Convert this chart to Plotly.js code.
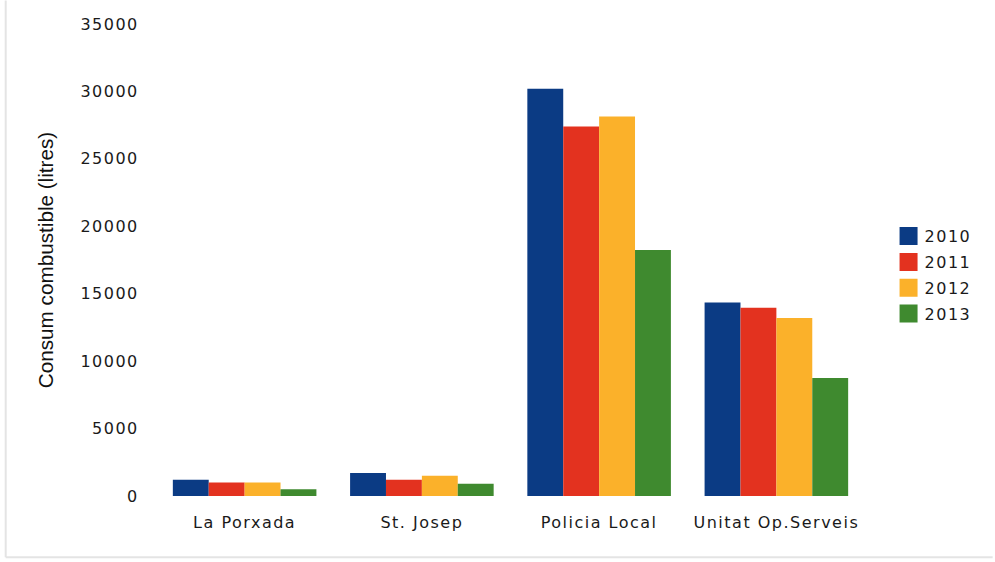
<!DOCTYPE html>
<html><head><meta charset="utf-8">
<script src="https://cdn.plot.ly/plotly-3.0.1.min.js"></script>
<style>
body{margin:0;background:#fff}#c{width:995px;height:562px}
.xtick text, .ytick text, .legendtext {letter-spacing:1.5px}
.legend .legendpoints path {transform-origin: 0 0; transform: translate(24px, 0) scale(1.5)}
</style>
</head><body><div id="c"></div>
<script>
const categories = ["La Porxada", "St. Josep", "Policia Local", "Unitat Op.Serveis"];
const years = ["2010", "2011", "2012", "2013"];
const v2010 = [1200, 1700, 30200, 14350];
const v2011 = [1000, 1200, 27400, 13950];
const v2012 = [1000, 1500, 28150, 13200];
const v2013 = [500, 900, 18250, 8750];
const colors = ["#0b3b84", "#e3321f", "#fbb12a", "#3f8a2f"];
const series = [v2010, v2011, v2012, v2013];

const traces = series.map((vals, i) => ({
  type: "bar", name: years[i], x: categories, y: vals, legendgroup: "g" + i,
  marker: {color: colors[i], line: {width: 0}}
}));

const tickFont = {family: "DejaVu Sans, sans-serif", size: 16, color: "#1a1a1a"};
const layout = {
  width: 995, height: 562,
  margin: {l: 156, r: 130, t: 24, b: 66, autoexpand: false},
  barmode: "group", bargap: 0.19, bargroupgap: 0,
  paper_bgcolor: "#fff", plot_bgcolor: "#fff",
  font: {family: "Liberation Sans, Arial, sans-serif", color: "#111", size: 15},
  xaxis: {showgrid: false, zeroline: false, showline: false, ticks: "outside", ticklen: 12,
          tickcolor: "rgba(0,0,0,0)", tickfont: tickFont, automargin: false},
  yaxis: {range: [0, 35000], dtick: 5000, tickformat: "d", showgrid: false, zeroline: false, showline: false,
          ticks: "outside", ticklen: 13, tickcolor: "rgba(0,0,0,0)", tickfont: tickFont, automargin: false,
          title: {text: "Consum combustible (litres)", font: {family: "Liberation Sans, Arial, sans-serif", size: 20.7, color: "#111"}, standoff: 21}},
  legend: {xref: "container", yref: "container", x: 0.889, xanchor: "left", y: 0.61, yanchor: "top",
           font: tickFont, tracegroupgap: 2},
  showlegend: true,
  shapes: [
    {type: "line", xref: "paper", yref: "paper", x0: -0.212, x1: -0.212, y0: -0.13, y1: 1.05, line: {color: "#e4e4e4", width: 2}},
    {type: "line", xref: "paper", yref: "paper", x0: -0.212, x1: 1.18, y0: -0.13, y1: -0.13, line: {color: "#e4e4e4", width: 2}}
  ]
};
Plotly.newPlot("c", traces, layout, {displayModeBar: false});
</script></body></html>
